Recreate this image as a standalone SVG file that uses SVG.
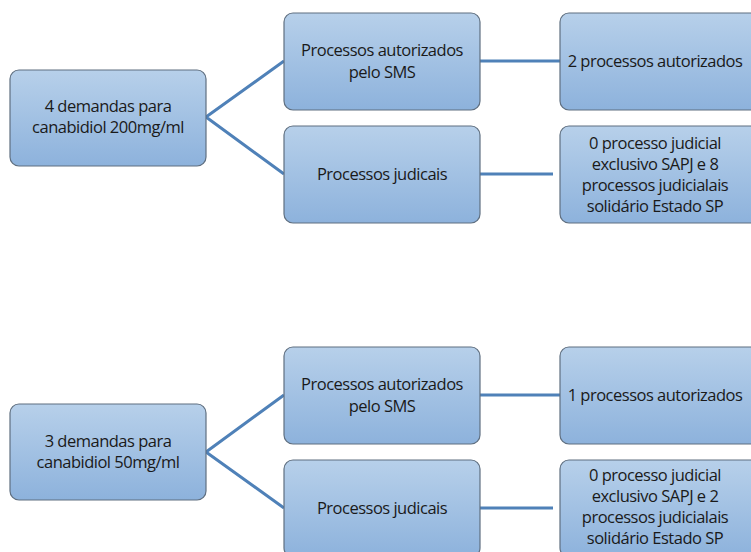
<svg xmlns="http://www.w3.org/2000/svg" width="751" height="552" viewBox="0 0 751 552">
<style>
.box{fill:url(#g);stroke:#5f6f80;stroke-width:1.2}
.t{font-family:"Open Sans","Liberation Sans",sans-serif;font-size:16.5px;fill:#1a1a1a;text-anchor:middle;letter-spacing:-0.5px}
.c{stroke:#4f81b8;stroke-width:3;fill:none}
</style>
<defs>
<linearGradient id="g" x1="0" y1="0" x2="0" y2="1">
<stop offset="0" stop-color="#b7d0ea"/>
<stop offset="1" stop-color="#8db2dc"/>
</linearGradient>
</defs>
<rect width="751" height="552" fill="#ffffff"/>
<g id="connectors">
<path class="c" d="M206,117 L284,61 M206,117 L284,174 M480,61 L560,61 M480,174 L553,174"/>
<path class="c" d="M206,452 L284,395 M206,452 L284,508 M480,395 L560,395 M480,508 L553,508"/>
</g>
<g id="root1"><rect class="box" x="10" y="70" width="196" height="96" rx="9"/>
<text class="t" x="108" y="112">4 demandas para</text><text class="t" x="108" y="133">canabidiol 200mg/ml</text></g>
<g id="sms1"><rect class="box" x="284" y="13" width="196" height="97" rx="9"/>
<text class="t" x="382" y="56">Processos autorizados</text><text class="t" x="382" y="78">pelo SMS</text></g>
<g id="jud1"><rect class="box" x="284" y="126" width="196" height="97" rx="9"/>
<text class="t" x="382" y="180">Processos judicais</text></g>
<g id="res1a"><rect class="box" x="560" y="13" width="200" height="97" rx="9"/>
<text class="t" x="655" y="67">2 processos autorizados</text></g>
<g id="res1b"><rect class="box" x="560" y="126" width="200" height="97" rx="9"/>
<text class="t" x="655" y="149">0 processo judicial</text><text class="t" x="655" y="170">exclusivo SAPJ e 8</text><text class="t" x="655" y="191">processos judicialais</text><text class="t" x="655" y="212">solidário Estado SP</text></g>
<g id="root2"><rect class="box" x="10" y="404" width="196" height="96" rx="9"/>
<text class="t" x="108" y="447">3 demandas para</text><text class="t" x="108" y="468">canabidiol 50mg/ml</text></g>
<g id="sms2"><rect class="box" x="284" y="347" width="196" height="97" rx="9"/>
<text class="t" x="382" y="390">Processos autorizados</text><text class="t" x="382" y="412">pelo SMS</text></g>
<g id="jud2"><rect class="box" x="284" y="460" width="196" height="97" rx="9"/>
<text class="t" x="382" y="514">Processos judicais</text></g>
<g id="res2a"><rect class="box" x="560" y="347" width="200" height="97" rx="9"/>
<text class="t" x="655" y="401">1 processos autorizados</text></g>
<g id="res2b"><rect class="box" x="560" y="460" width="200" height="97" rx="9"/>
<text class="t" x="655" y="481">0 processo judicial</text><text class="t" x="655" y="502">exclusivo SAPJ e 2</text><text class="t" x="655" y="523">processos judicialais</text><text class="t" x="655" y="544">solidário Estado SP</text></g>
</svg>
